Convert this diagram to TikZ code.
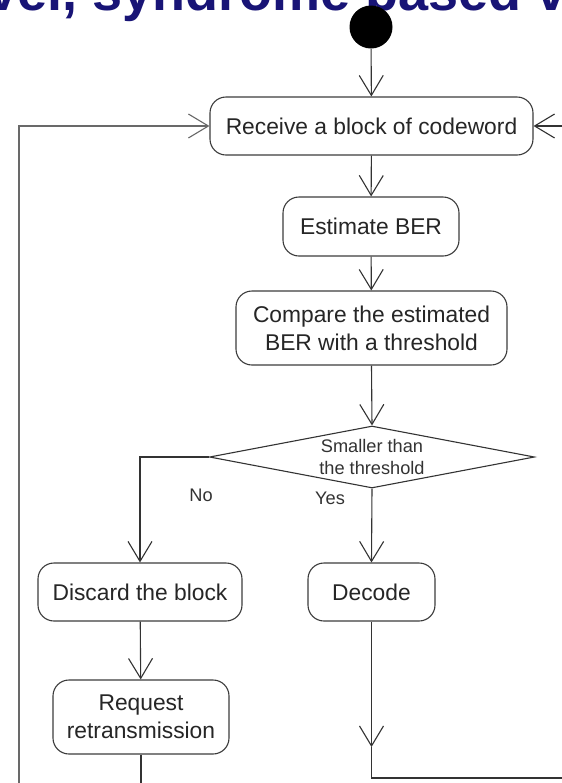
\documentclass[tikz,border=0pt]{standalone}
\usepackage{fontspec}
\setmainfont{Liberation Sans}
\usetikzlibrary{arrows.meta,shapes.geometric}
\definecolor{titleblue}{RGB}{24,20,118}
\definecolor{edgegray}{RGB}{60,60,60}
\definecolor{loopgray}{RGB}{105,105,105}
\tikzset{
  activity/.style={draw=edgegray, line width=0.55pt, rounded corners=8pt,
    align=center, inner sep=0pt, font=\fontsize{11.4pt}{14pt}\selectfont,
    text=black!85},
  choice/.style={diamond, draw=black!80, line width=0.55pt, inner sep=0pt,
    shape aspect=5.2, align=center, font=\fontsize{9.1pt}{11pt}\selectfont,
    text=black!80},
  flow/.style={draw=black!80, line width=0.55pt},
  arr/.style={flow, -{Straight Barb[length=10pt,width=12pt,line width=0.55pt]}},
  guard/.style={font=\fontsize{9.1pt}{11pt}\selectfont, text=black!80, inner sep=0pt},
}
\begin{document}
\begin{tikzpicture}[x=0.5pt, y=-0.5pt]
  \clip (0,0) rectangle (562,783);
  \fill[white] (0,0) rectangle (562,783);

  % heading, partly outside the frame
  \node[anchor=base west, inner sep=0pt, text=titleblue,
        font=\fontsize{27pt}{31pt}\selectfont\bfseries] (heading) at (-13,10)
        {vel, syndrome based v};

  % activity nodes
  \node[circle, fill=black, inner sep=0pt, minimum size=21.5pt] (start) at (371,27) {};
  \node[activity, minimum width=161.5pt, minimum height=29pt] (receive) at (371.5,126)
        {Receive a block of codeword};
  \node[activity, minimum width=88pt, minimum height=29.5pt] (estimate) at (371,226.5)
        {Estimate BER};
  \node[activity, minimum width=135.5pt, minimum height=37pt] (compare) at (371.5,328)
        {Compare the estimated\\BER with a threshold};
  \node[choice, minimum width=162.5pt, minimum height=31pt] (dec) at (372,457)
        {Smaller than\\the threshold};
  \node[activity, minimum width=102pt, minimum height=29pt] (discard) at (140,592)
        {Discard the block};
  \node[activity, minimum width=63.5pt, minimum height=29pt] (decode) at (371.5,592)
        {Decode};
  \node[activity, minimum width=88pt, minimum height=37pt] (request) at (141,717)
        {Request\\retransmission};

  % guards
  \node[guard] (no) at (201,495) {No};
  \node[guard] (yes) at (330,498) {Yes};

  % free ends of the loop connectors
  \coordinate (reqout) at (141,795);
  \coordinate (loopbot) at (19,795);
  \coordinate (rightin) at (575,126);
  \coordinate (decmid) at (371.5,747);
  \coordinate (decturn) at (371.5,778);
  \coordinate (decout) at (575,778);

  % connectors
  \draw[arr] (start) -- (receive);
  \draw[arr] (receive) -- (estimate);
  \draw[arr] (estimate) -- (compare);
  \draw[arr] (compare.south) -- (dec.north);
  \draw[arr] (dec.west) -| (discard.north);
  \draw[arr] (dec.south) -- (decode.north);
  \draw[arr] (discard) -- (request);
  \draw[flow] (request.south) -- (reqout);
  \draw[arr, draw=loopgray, line width=0.8pt] (loopbot) |- (receive.west);
  \draw[arr] (rightin) -- (receive.east);
  \draw[arr] (decode.south) -- (decmid);
  \draw[flow] (decmid) -- (decturn) -- (decout);
\end{tikzpicture}
\end{document}
